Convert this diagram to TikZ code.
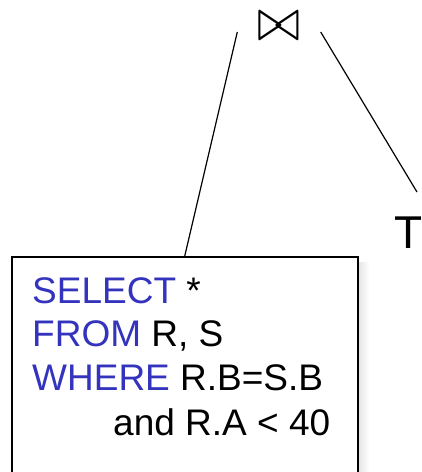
\documentclass[tikz,border=0pt]{standalone}
\usepackage{fontspec}
\usepackage{graphicx}
\setmainfont{Liberation Sans}
\definecolor{kwblue}{RGB}{51,51,190}
\begin{document}
\begin{tikzpicture}[x=1pt,y=1pt,
  edge/.style={line width=1.2pt},
  sqltext/.style={anchor=base west, inner sep=0pt, font=\fontsize{37}{44}\selectfont},
  kw/.style={text=kwblue}]
\useasboundingbox (0,0) rectangle (422,-472);
% shadow
\shade[left color=black!12, right color=white] (357,-262) rectangle (369,-480);
% box
\node[draw, line width=1.5pt, fill=white, anchor=north west, minimum width=346pt, minimum height=240pt, inner sep=0pt] (box) at (11,-256) {};
% texts
\node[sqltext] (l1) at (32,-303) {\textcolor{kwblue}{SELECT} *};
\node[sqltext] (l2) at (32,-346) {\textcolor{kwblue}{FROM} R, S};
\node[sqltext] (l3) at (32,-390) {\textcolor{kwblue}{WHERE} R.B=S.B};
\node[sqltext] (l4) at (113,-435) {and R.A < 40};
% join
\node[inner sep=0pt, minimum width=83pt] (join) at (279,-26) {\resizebox*{43pt}{28pt}{$\bowtie$}};
% T
\node[inner sep=0pt, anchor=base, font=\fontsize{46}{46}\selectfont] (T) at (409,-248) {T};
\coordinate (Ttop) at (417,-192);
\draw[edge] ([yshift=-6pt]join.west) -- (box.north);
\draw[edge] ([yshift=-6pt]join.east) -- (Ttop);
\end{tikzpicture}
\end{document}
